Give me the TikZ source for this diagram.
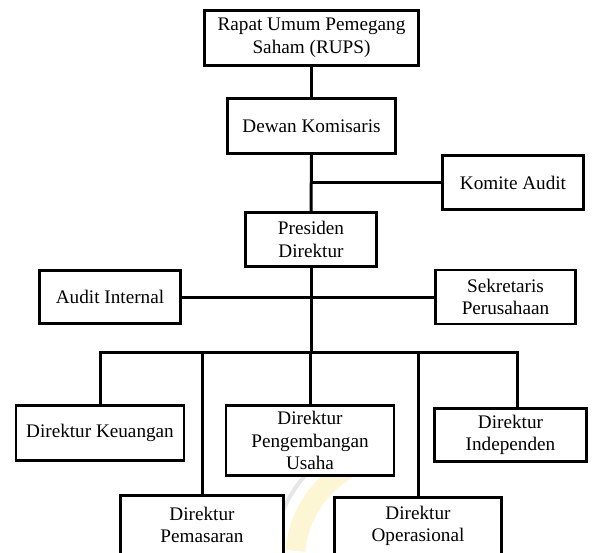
\documentclass[tikz,border=0pt]{standalone}
\usepackage{fontspec}
\setmainfont{Liberation Serif}
\begin{document}
\begin{tikzpicture}[x=1pt,y=-1pt,
  box/.style={draw, line width=2.6pt, fill=white, inner sep=0pt, align=center,
    font=\rmfamily\fontsize{19.2}{22.6}\selectfont},
  link/.style={line width=3pt}]
\useasboundingbox (0,0) rectangle (594,552);
\begin{scope}
\clip (0,0) rectangle (594,552);
% faint logo ring in the background
\draw[line width=20pt, color={rgb,255:red,253;green,246;blue,212}]
  (400,560) ++(185:105) arc[start angle=185, end angle=245, radius=105];
\draw[line width=4pt, color={rgb,255:red,230;green,230;blue,230}]
  (400,560) ++(195:127) arc[start angle=195, end angle=240, radius=127];

% boxes
\node[box, minimum width=214pt, minimum height=55pt] (rups) at (311.5,38) {Rapat Umum Pemegang\\Saham (RUPS)};
\node[box, minimum width=168pt, minimum height=55pt] (dewan) at (311.5,126) {Dewan Komisaris};
\node[box, minimum width=141pt, minimum height=54pt] (komite) at (513,182.5) {Komite Audit};
\node[box, minimum width=131pt, minimum height=54pt] (presiden) at (311,239.5) {Presiden\\Direktur};
\node[box, minimum width=141pt, minimum height=53pt] (audit) at (110,297) {Audit Internal};
\node[box, minimum width=140pt, minimum height=54pt] (sekretaris) at (505.5,297) {Sekretaris\\Perusahaan};
\node[box, minimum width=168pt, minimum height=55pt] (keuangan) at (100,433) {Direktur Keuangan};
\node[box, minimum width=168pt, minimum height=70pt] (pengembangan) at (310,440.5) {Direktur\\Pengembangan\\Usaha};
\node[box, minimum width=152pt, minimum height=53pt] (independen) at (510.5,435) {Direktur\\Independen};
\node[box, minimum width=163pt, minimum height=59pt] (pemasaran) at (202,525) {Direktur\\Pemasaran};
\node[box, minimum width=167pt, minimum height=57pt] (operasional) at (418,526) {Direktur\\Operasional};

% connectors
\coordinate (barL) at (100,352);
\coordinate (barR) at (517,352);
\draw[link] (rups.south) -- (dewan.north);
\draw[link] (dewan.south) -- (presiden.north);
\draw[link] (komite.west) -- (komite.west -| dewan.south);
\draw[link] (audit.east) -- (sekretaris.west);
\draw[link] (presiden.south) -- (presiden.south |- barL);
\draw[link] (keuangan.north -| barL) -- (barL) -- (barR) -- (barR |- independen.north);
\draw[link] (pemasaran.north) -- (pemasaran.north |- barL);
\draw[link] (pengembangan.north) -- (pengembangan.north |- barL);
\draw[link] (operasional.north) -- (operasional.north |- barL);
\end{scope}
\end{tikzpicture}
\end{document}
